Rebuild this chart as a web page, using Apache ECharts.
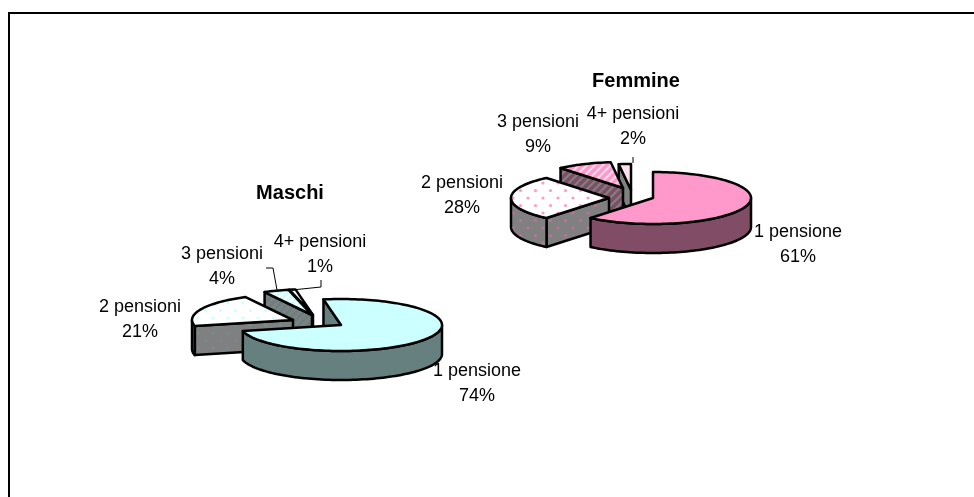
<!DOCTYPE html>
<html>
<head>
<meta charset="utf-8">
<title>Pensioni</title>
<style>
  html, body { margin: 0; padding: 0; background: #fff; }
  #chart { width: 974px; height: 497px; }
</style>
<script src="https://cdn.jsdelivr.net/npm/echarts@6/dist/echarts.min.js"></script>
</head>
<body>
<div id="chart"></div>
<script>
const categories = ['1 pensione', '2 pensioni', '3 pensioni', '4+ pensioni'];
const maschiValues = [74, 21, 4, 1];
const femmineValues = [61, 28, 9, 2];

const FONT = '"Liberation Sans", Arial, sans-serif';

// tile for the dotted and the hatched slices
function dots(bg, dot) {
  const c = document.createElement('canvas');
  c.width = 15;
  c.height = 15;
  const ctx = c.getContext('2d');
  ctx.fillStyle = bg;
  ctx.fillRect(0, 0, 15, 15);
  ctx.fillStyle = dot;
  [[3, 3], [10.5, 10.5]].forEach(p => {
    ctx.beginPath();
    ctx.arc(p[0], p[1], 1.6, 0, Math.PI * 2);
    ctx.fill();
  });
  return { image: c, repeat: 'repeat' };
}

function hatch(bg, stripe) {
  const c = document.createElement('canvas');
  c.width = 8;
  c.height = 8;
  const ctx = c.getContext('2d');
  ctx.fillStyle = bg;
  ctx.fillRect(0, 0, 8, 8);
  ctx.strokeStyle = stripe;
  ctx.lineWidth = 2.2;
  [[-1, 9, 9, -1], [-5, 5, 5, -5], [3, 13, 13, 3]].forEach(l => {
    ctx.beginPath();
    ctx.moveTo(l[0], l[1]);
    ctx.lineTo(l[2], l[3]);
    ctx.stroke();
  });
  return { image: c, repeat: 'repeat' };
}

function arc(cx, cy, p, from, to, drop) {
  const pts = [];
  const n = Math.max(1, Math.ceil(Math.abs(to - from) / 2));
  for (let i = 0; i <= n; i++) {
    const t = (from + (to - from) * i / n) * Math.PI / 180;
    pts.push([cx + p.rx * Math.sin(t), cy - p.ry * Math.cos(t) + drop]);
  }
  return pts;
}

function pieSeries(name, values, p) {
  const total = values.reduce((a, b) => a + b, 0);
  const starts = [];
  let sum = p.startAngle;
  values.forEach(v => {
    starts.push(sum);
    sum += v / total * 360;
  });
  const line = { stroke: '#000', lineWidth: 2.5, lineJoin: 'round' };

  return {
    type: 'custom',
    name,
    coordinateSystem: 'none',
    silent: true,
    // back slices first, so the front ones cover them
    data: [3, 2, 1, 0].map(i => [i, values[i]]),
    renderItem(params, api) {
      const i = api.value(0);
      const ts = starts[i];
      const te = ts + api.value(1) / total * 360;
      const cx = p.cx + p.explode[i][0];
      const cy = p.cy + p.explode[i][1];
      const children = [];
      const poly = (points, fill) => children.push({
        type: 'polygon',
        shape: { points },
        style: Object.assign({ fill }, line),
      });
      const radial = t => {
        const edge = arc(cx, cy, p, t, t, 0)[0];
        poly([[cx, cy], edge, [edge[0], edge[1] + p.depth], [cx, cy + p.depth]], p.wall[i]);
      };
      if (Math.sin(ts * Math.PI / 180) < -0.001) radial(ts);
      if (Math.sin(te * Math.PI / 180) > 0.001) radial(te);
      const a = Math.max(ts, 90);
      const b = Math.min(te, 270);
      if (b > a) {
        poly(arc(cx, cy, p, a, b, 0).concat(arc(cx, cy, p, b, a, p.depth)), p.wall[i]);
      }
      poly([[cx, cy]].concat(arc(cx, cy, p, ts, te, 0)), p.top[i]);

      (p.leaders[i] || []).forEach(points => children.push({
        type: 'polyline',
        shape: { points },
        style: { stroke: '#000', lineWidth: 1, fill: null },
      }));
      children.push({
        type: 'text',
        style: {
          text: categories[i] + '\n' + api.value(1) + '%',
          x: p.labels[i][0],
          y: p.labels[i][1],
          align: 'center',
          verticalAlign: 'middle',
          font: '18px ' + FONT,
          lineHeight: 25,
          fill: '#000',
        },
      });
      return { type: 'group', children };
    },
  };
}

const pink = '#FF99CC';
const plum = '#804C66';
const cyan = '#CCFFFF';
const teal = '#668080';
const grey = '#808080';

const maschiSeries = pieSeries('Maschi', maschiValues, {
  cx: 341, cy: 325, rx: 101, ry: 26, depth: 29, startAngle: -10,
  explode: [[0, 0], [-48, -5], [-29, -10], [-28, -10]],
  top: [cyan, dots('#fff', cyan), hatch(cyan, '#fff'), '#fff'],
  wall: [teal, dots(grey, '#6E9090'), hatch(grey, teal), grey],
  labels: [[477, 384], [140, 320], [222, 267], [320, 255]],
  leaders: { 2: [[[266, 268], [273, 268], [277, 290]]], 3: [[[321, 280], [321, 287], [292, 290]]] },
});

const femmineSeries = pieSeries('Femmine', femmineValues, {
  cx: 653, cy: 198, rx: 98, ry: 26, depth: 29, startAngle: 0,
  explode: [[0, 0], [-44, 0], [-30, -10], [-22, -8]],
  top: [pink, dots('#fff', pink), hatch(pink, '#FFD6EB'), '#FFE0F0'],
  wall: [plum, dots(grey, '#C0709A'), hatch(plum, grey), grey],
  labels: [[798, 245], [462, 196], [538, 135], [633, 127]],
  leaders: { 3: [[[633, 157], [633, 163]]] },
});

const chart = echarts.init(document.getElementById('chart'), null, { renderer: 'canvas' });
chart.setOption({
  backgroundColor: '#fff',
  animation: false,
  title: [
    { text: 'Maschi', left: 290, top: 183, textAlign: 'center', padding: 0, textStyle: { fontFamily: FONT, fontSize: 20, fontWeight: 'bold', color: '#000' } },
    { text: 'Femmine', left: 636, top: 71, textAlign: 'center', padding: 0, textStyle: { fontFamily: FONT, fontSize: 20, fontWeight: 'bold', color: '#000' } },
  ],
  // chart frame: only the top and left edges fall inside the picture
  graphic: [{
    type: 'polyline',
    shape: { points: [[9, 497], [9, 13], [974, 13]] },
    style: { stroke: '#000', lineWidth: 2, fill: null },
  }],
  series: [maschiSeries, femmineSeries],
});
</script>
</body>
</html>
